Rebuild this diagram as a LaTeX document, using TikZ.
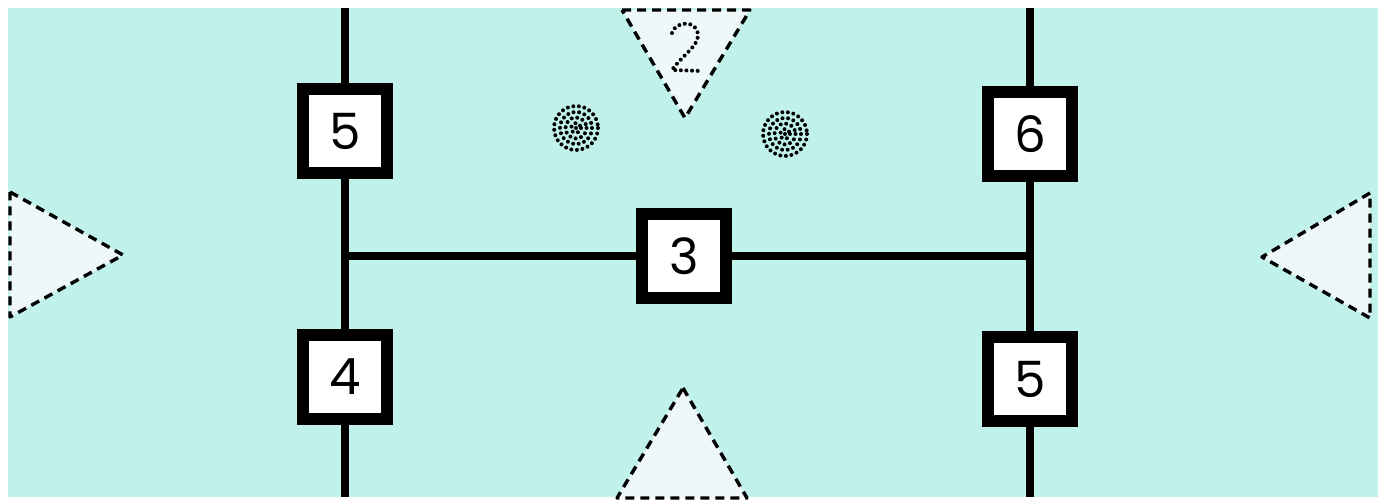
\documentclass[tikz,border=0pt]{standalone}
\usepackage{fontspec}
\setmainfont{Poppins}
\usetikzlibrary{calc, positioning}

\definecolor{pool}{RGB}{192,241,234}
\definecolor{pale}{RGB}{238,248,248}

\tikzset{
  numbox/.style={draw, line width=12pt, fill=white, minimum size=84pt, inner sep=0pt, font=\fontsize{50}{50}\selectfont},
  wire/.style={line width=8.5pt},
  goal/.style={draw, dash pattern=on 9pt off 6pt, line width=3.4pt, fill=pale, line join=round},
  dotring/.style={line width=4pt, line cap=round, dash pattern=on 0pt off 5.6pt}
}

\begin{document}
\begin{tikzpicture}[x=1pt, y=-1pt]
\useasboundingbox (0,0) rectangle (1384,503);
\fill[white] (0,0) rectangle (1384,503);
\fill[pool] (8,8) rectangle (1378,497);

% Draw the triangles
\draw[goal] (622,10) -- (750,10) -- (685,118) -- cycle;
\draw[goal] (10,192) -- (123,255) -- (10,317) -- cycle;
\draw[goal] (1370,193) -- (1262,257) -- (1370,318) -- cycle;
\draw[goal] (683,388) -- (747,498) -- (617,498) -- cycle;

% Dotted two
\draw[dotring] (672,33) .. controls (675,21) and (698,19) .. (698,36)
  .. controls (698,46) and (680,58) .. (672,70) -- (702,71);

% Dotted spots
\foreach \cx/\cy in {576/128, 785/134} {
  \foreach \r in {22,16,10.5,5}
    \draw[dotring] (\cx,\cy) circle (\r);
  \fill (\cx,\cy) circle (2pt);
}

% Mark boxes
\node[numbox] (lt) at (345,131) {5};
\node[numbox] (lb) at (345,377) {4};
\node[numbox] (rt) at (1030,134) {6};
\node[numbox] (rb) at (1030,379) {5};
\node[numbox] (mid) at (684,256) {3};

\coordinate (ltop) at (345,8);
\coordinate (lbot) at (345,497);
\coordinate (rtop) at (1030,8);
\coordinate (rbot) at (1030,497);
\coordinate (jl) at (345,256);
\coordinate (jr) at (1030,256);

% Draw the wire segments
\draw[wire] (ltop) -- (lt);
\draw[wire] (lt) -- (lb);
\draw[wire] (lb) -- (lbot);
\draw[wire] (rtop) -- (rt);
\draw[wire] (rt) -- (rb);
\draw[wire] (rb) -- (rbot);
\draw[wire] (jl) -- (mid);
\draw[wire] (mid) -- (jr);
\end{tikzpicture}
\end{document}
